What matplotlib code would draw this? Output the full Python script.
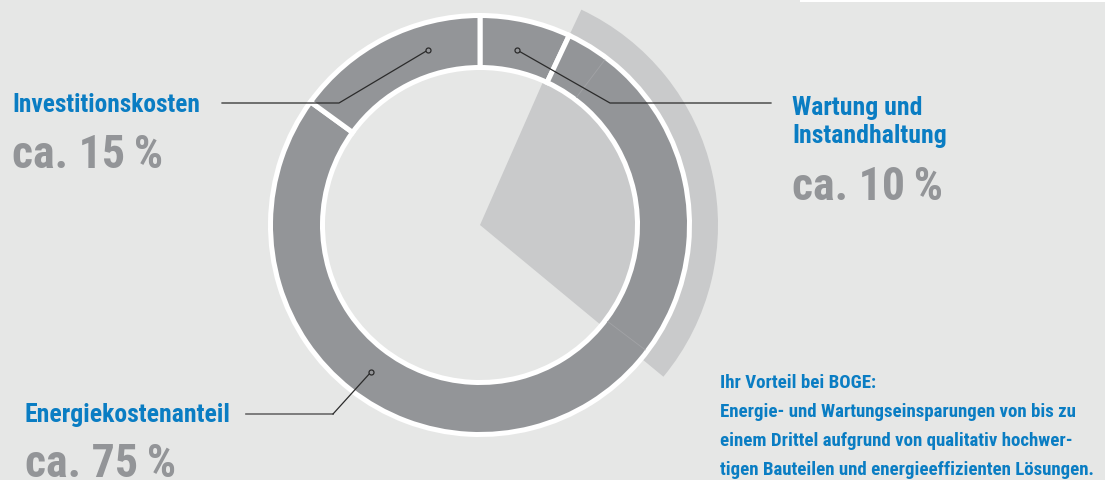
import os
import matplotlib
matplotlib.use('Agg')
import matplotlib.pyplot as plt
from matplotlib import font_manager as fm
from matplotlib.font_manager import FontProperties
from matplotlib.patches import Wedge, Rectangle
import numpy as np

# ring shares, clockwise from 12 o'clock (as drawn)
segments = ['Wartung und Instandhaltung', 'Energiekostenanteil', 'Investitionskosten']
shares = [7, 78, 15]

# savings overlay (percent of full circle, clockwise from top)
savings_start = 7
savings_end = 36

labels = ['Investitionskosten', 'Wartung und\nInstandhaltung', 'Energiekostenanteil']
percents = ['ca. 15\u2009%', 'ca. 10\u2009%', 'ca. 75\u2009%']
note_lines = ['Ihr Vorteil bei BOGE:',
              'Energie- und Wartungseinsparungen von bis zu',
              'einem Drittel aufgrund von qualitativ hochwer-',
              'tigen Bauteilen und energieeffizienten Lösungen.']

bg = '#e6e7e6'
ring_gray = '#939598'
light_gray = '#c9cacb'
blue = '#0a7dc3'
pct_gray = '#939598'


def find_font(keys):
    for k in keys:
        for f in fm.fontManager.ttflist:
            if k in os.path.basename(f.fname):
                return f.fname
    return None


bold_path = find_font(['LiberationSansNarrow-Bold.ttf', 'RobotoCondensed-Bold',
                       'DejaVuSansCondensed-Bold.ttf'])
if bold_path:
    fp = FontProperties(fname=bold_path)
else:
    fp = FontProperties(family='Liberation Sans', weight='bold')

fig = plt.figure(figsize=(11.05, 4.8), dpi=100, facecolor=bg)
ax = fig.add_axes([0, 0, 1, 1])
ax.set_facecolor(bg)

cx, cy = 480, 225
px = 72 / 100  # points per pixel


def ang(pct):
    # percent clockwise from top -> data angle (y axis inverted)
    return pct * 3.6 - 90


# outer light arc and inner light wedge (savings)
ax.add_patch(Wedge((cx, cy), 238, ang(savings_start), ang(savings_end), width=28,
                   facecolor=light_gray, edgecolor='none'))
ax.add_patch(Wedge((cx, cy), 158, ang(savings_start - 0.4), ang(savings_end),
                   facecolor=light_gray, edgecolor='none'))

# ring
ax.pie(shares, radius=209.5, center=(cx, cy), startangle=-90, counterclock=True,
       colors=[ring_gray] * len(shares), frame=True,
       wedgeprops=dict(width=52, edgecolor='white', linewidth=5 * px))

# faint lines of the savings area inside the ring
for p in [10.3, 35.3]:
    t = np.radians(ang(p))
    ax.plot([cx + 160 * np.cos(t), cx + 207 * np.cos(t)],
            [cy + 160 * np.sin(t), cy + 207 * np.sin(t)],
            color='#a2a3a6', lw=0.6)

# leader lines
line_col = '#2b2b2b'
ax.plot([222, 339, 428], [103, 103, 50], color=line_col, lw=0.9)
ax.plot([428], [50], 'o', ms=5 * px, mfc=ring_gray, mec=line_col, mew=0.9)
ax.plot([771, 610, 517], [103, 103, 50], color=line_col, lw=0.9)
ax.plot([517], [50], 'o', ms=5 * px, mfc=ring_gray, mec=line_col, mew=0.9)
ax.plot([246, 333], [414, 414], color='#6a6a6a', lw=1.2)
ax.plot([333, 371], [414, 372], color=line_col, lw=0.9)
ax.plot([371], [372], 'o', ms=5 * px, mfc=ring_gray, mec=line_col, mew=0.9)

# labels
ax.text(12, 112, labels[0], fontproperties=fp, fontsize=18.3, color=blue, va='baseline')
ax.text(12, 168, percents[0], fontproperties=fp, fontsize=33, color=pct_gray, va='baseline')
ax.text(792, 115, 'Wartung und', fontproperties=fp, fontsize=18.5, color=blue, va='baseline')
ax.text(792, 143, 'Instandhaltung', fontproperties=fp, fontsize=18.5, color=blue, va='baseline')
ax.text(792, 200, percents[1], fontproperties=fp, fontsize=33, color=pct_gray, va='baseline')
ax.text(25, 422, labels[2], fontproperties=fp, fontsize=18.5, color=blue, va='baseline')
ax.text(25, 477, percents[2], fontproperties=fp, fontsize=33, color=pct_gray, va='baseline')

for i, line in enumerate(note_lines):
    ax.text(720, 388 + i * 29, line, fontproperties=fp, fontsize=13.6, color=blue, va='baseline')

# white box edge at top right
ax.add_patch(Rectangle((800, -2), 310, 4.3, facecolor='white', edgecolor='none'))

ax.set_xlim(0, 1105)
ax.set_ylim(480, 0)
ax.set_aspect('equal')
ax.axis('off')

fig.savefig('out.png', dpi=100, facecolor=bg)
